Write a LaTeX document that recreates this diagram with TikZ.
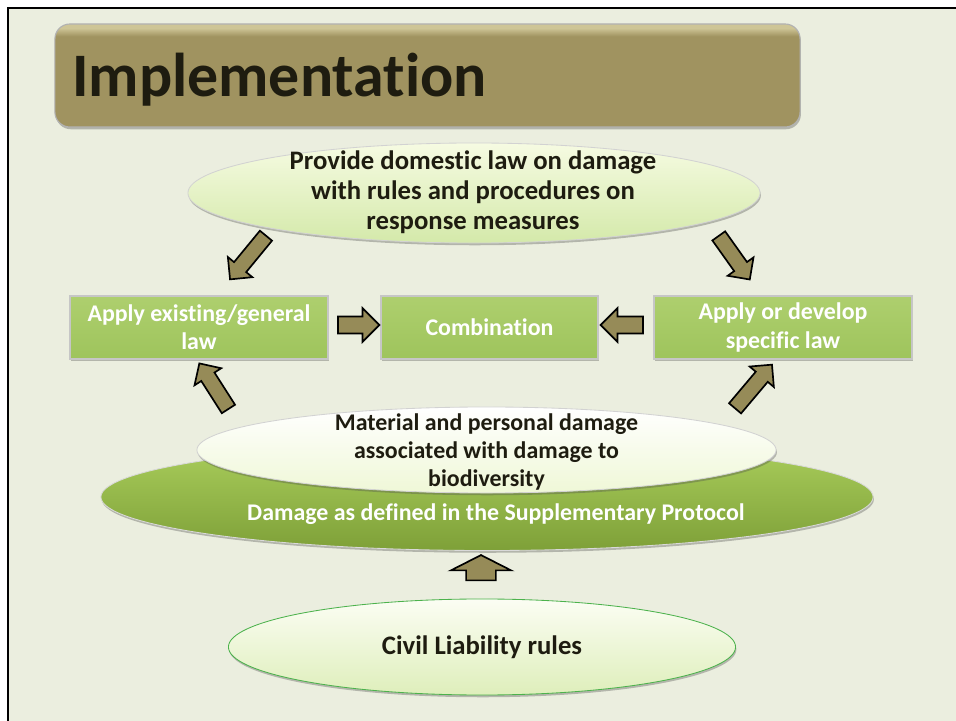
\documentclass[tikz,border=0pt]{standalone}
\usepackage{fontspec}
\setmainfont{Carlito}[Ligatures={NoCommon,NoContextual}]
\usetikzlibrary{shapes.geometric,shapes.arrows,shadows,calc}

\definecolor{slidebg}{RGB}{235,238,223}
\definecolor{titlefill}{RGB}{160,147,96}
\definecolor{titletop}{RGB}{206,197,150}
\definecolor{arrowfill}{RGB}{150,139,88}
\definecolor{boxtop}{RGB}{174,207,110}
\definecolor{boxbot}{RGB}{158,196,92}
\definecolor{greentop}{RGB}{170,206,92}
\definecolor{greenbot}{RGB}{126,160,56}
\definecolor{paletop}{RGB}{246,251,226}
\definecolor{palebot}{RGB}{212,233,170}
\definecolor{inktext}{RGB}{30,28,16}

\pgfdeclareverticalshading{titleshade}{100bp}{color(0bp)=(titlefill); color(69bp)=(titlefill); color(73bp)=(titletop); color(100bp)=(titletop)}

\tikzset{
  softshadow/.style={drop shadow={shadow xshift=0.6pt, shadow yshift=-1.6pt, opacity=0.35, fill=black!70}},
  titlebar/.style={rectangle, rounded corners=0.375cm, shading=titleshade, draw=gray!60, line width=0.8pt, softshadow, minimum width=18.625cm, minimum height=2.575cm},
  titletext/.style={text=inktext, font=\bfseries\fontsize{44}{50}\selectfont, inner sep=0pt},
  lawbox/.style={rectangle, top color=boxtop, bottom color=boxbot, draw=gray!45, line width=0.9pt, softshadow, minimum height=1.575cm, text=white, font=\bfseries\fontsize{17}{20}\selectfont, align=center},
  paleoval/.style={ellipse, top color=paletop, bottom color=palebot, draw=gray!35, line width=0.6pt, softshadow},
  greenoval/.style={ellipse, top color=greentop, bottom color=greenbot, draw=gray!30, line width=0.6pt, softshadow},
  ovaltext/.style={text=inktext, font=\bfseries\fontsize{17}{20}\selectfont, align=center, inner sep=0pt},
  bigtext/.style={ovaltext, font=\bfseries\fontsize{19}{21.5}\selectfont},
  fatarrow/.style={single arrow, draw=black, fill=arrowfill, line width=1.2pt, inner sep=0pt, single arrow head indent=0pt},
  slimhead/.style={inner ysep=0.175cm, single arrow head extend=0.2cm},
  sidehead/.style={inner ysep=0.19cm, single arrow head extend=0.21cm},
  widehead/.style={inner ysep=0.35cm, single arrow head extend=0.38cm, single arrow tip angle=126}
}

\newcommand{\fatarrowto}[4]{%
  \path let \p1=(#2), \p2=(#3),
    \n1={atan2(\y2-\y1,\x2-\x1)}, \n2={veclen(\x2-\x1,\y2-\y1)} in
    node[fatarrow, #4, rotate=\n1, minimum height=\n2-1.2pt] (#1) at ($(#2)!0.5!(#3)$) {};}

\begin{document}
\begin{tikzpicture}[x=0.025cm, y=-0.025cm]
  \useasboundingbox (0,0) rectangle (956,721);
  \fill[white] (0,0) rectangle (956,721);
  \fill[slidebg] (8,8) rectangle (956,721);
  \draw[black, line width=1.8pt] (956,8) -- (8,8) -- (8,721);

  \node[titlebar] (title) at (427.5,75.5) {};
  \node[titletext, anchor=base west] (titletxt) at (72,97) {Implementation};

  \node[paleoval, minimum width=14.3cm, minimum height=2.5cm] (domestic) at (474,193) {};
  \node[bigtext] (domestictxt) at (473,192) {Provide domestic law on damage\\with rules and procedures on\\response measures};

  \node[lawbox, minimum width=6.45cm] (general) at (199,327.5) {Apply existing/general\\law};
  \node[lawbox, minimum width=5.425cm] (combo) at (489.5,327.5) {Combination};
  \node[lawbox, minimum width=6.45cm] (specific) at (783,327.5) {Apply or develop\\specific law};

  \node[greenoval, minimum width=19.3cm, minimum height=2.675cm] (protocol) at (487,497) {};
  \node[paleoval, top color=white, bottom color=paletop!80!palebot, minimum width=14.475cm, minimum height=2.15cm] (material) at (486.5,450) {};
  \node[ovaltext] (materialtxt) at (486.5,452) {Material and personal damage\\associated with damage to\\biodiversity};
  \node[ovaltext, text=white] (protocoltxt) at (496,514) {Damage as defined in the Supplementary Protocol};

  \node[paleoval, top color=white!60!paletop, bottom color=palebot!70!paletop, draw=green!40!gray, minimum width=12.675cm, minimum height=2.4cm] (civil) at (482,647) {};
  \node[bigtext] (civiltxt) at (civil) {Civil Liability rules};

  \coordinate (dl1) at (269,232);
  \coordinate (dl2) at (232,277);
  \coordinate (dr1) at (716,232);
  \coordinate (dr2) at (748,277);
  \coordinate (gc1) at (333,325);
  \coordinate (gc2) at (376,325);
  \coordinate (sc1) at (648,325);
  \coordinate (sc2) at (604,325);
  \coordinate (ul1) at (231,413);
  \coordinate (ul2) at (201,366);
  \coordinate (ur1) at (732,412);
  \coordinate (ur2) at (770,367);
  \coordinate (cp1) at (481,585);
  \coordinate (cp2) at (481,558);

  \fatarrowto{toleft}{dl1}{dl2}{slimhead}
  \fatarrowto{toright}{dr1}{dr2}{slimhead}
  \fatarrowto{gencombo}{gc1}{gc2}{sidehead}
  \fatarrowto{speccombo}{sc1}{sc2}{sidehead}
  \fatarrowto{upleft}{ul1}{ul2}{slimhead}
  \fatarrowto{upright}{ur1}{ur2}{slimhead}
  \fatarrowto{civilup}{cp1}{cp2}{widehead}
\end{tikzpicture}
\end{document}
